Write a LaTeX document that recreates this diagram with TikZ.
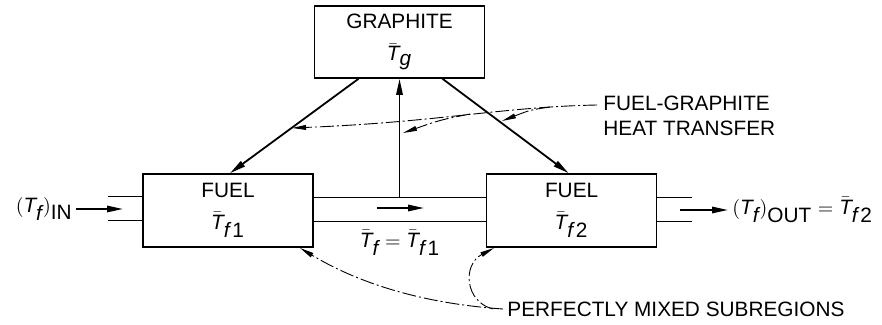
\documentclass[tikz,border=0pt]{standalone}
\usepackage{fontspec}
\setmainfont{Liberation Sans}
\usetikzlibrary{arrows.meta,positioning,calc}
\newcommand{\Tbar}[1]{$\bar{\textit{T}}_{#1}$}
\tikzset{
  box/.style={rectangle,draw,line width=0.8pt,minimum width=85pt,minimum height=36.5pt,align=center,font=\fontsize{10.4}{16}\selectfont},
  lbl/.style={font=\fontsize{10.4}{12.5}\selectfont,inner sep=0pt},
  arr/.style={-{Triangle[length=8pt,width=3.2pt]},line width=0.9pt},
  ldr/.style={-{Triangle[length=7pt,width=2.4pt]},line width=0.45pt,dash pattern=on 7pt off 1.5pt on 1pt off 1.5pt},
}
\begin{document}
\begin{tikzpicture}[x=0.5pt,y=-0.5pt]
  \useasboundingbox (0,0) rectangle (882,325);
  \node[box] (f1) at (228,210.5) {FUEL\\\Tbar{\textit{f}\,\textup{1}}};
  \node[box,right=86pt of f1] (f2) {FUEL\\\Tbar{\textit{f}\,\textup{2}}};
  \node[box,minimum height=36pt] (gr) at (399.5,42) {GRAPHITE\\\Tbar{\textit{g}}};
  % pipe between the two fuel regions, plus inlet and outlet stubs
  \draw[line width=0.8pt] ($(f1.east)+(0,-13)$) -- ($(f2.west)+(0,-13)$);
  \draw[line width=0.8pt] ($(f1.east)+(0,11)$) -- ($(f2.west)+(0,11)$);
  \draw[line width=0.8pt] ($(f1.west)+(-34,-14)$) -- ($(f1.west)+(0,-14)$);
  \draw[line width=0.8pt] ($(f1.west)+(-34,10)$) -- ($(f1.west)+(0,10)$);
  \draw[line width=0.8pt] ($(f2.east)+(0,-13)$) -- ($(f2.east)+(35,-13)$);
  \draw[line width=0.8pt] ($(f2.east)+(0,11)$) -- ($(f2.east)+(35,11)$);
  % flow
  \coordinate (in0) at (76,209);
  \coordinate (in1) at (123,209);
  \coordinate (out0) at (680,210);
  \coordinate (out1) at (728,210);
  \coordinate (mid0) at (377,208);
  \coordinate (mid1) at (424,208);
  \draw[arr] (in0) -- (in1);
  \draw[arr] (out0) -- (out1);
  \draw[arr] (mid0) -- (mid1);
  \node[lbl,anchor=east] (tin) at ($(in0)+(-3,0)$) {$(\textit{T}_{\textit{f}})_{\textup{IN}}$};
  \node[lbl,anchor=west] (tout) at ($(out1)+(4,0)$) {$(\textit{T}_{\textit{f}})_{\textup{OUT}} = $ \Tbar{\textit{f}\,\textup{2}}};
  \node[lbl] (tmid) at (400,243) {\Tbar{\textit{f}} $=$ \Tbar{\textit{f}\,\textup{1}}};
  % heat transfer
  \coordinate (pt) at (gr.south |- 0,197.5);
  \draw[arr] (pt) -- (gr.south);
  \draw[arr] ($(gr.south)+(-41,0)$) -- ($(f1.north)+(2,0)$);
  \draw[arr] ($(gr.south)+(43,0)$) -- ($(f2.north)+(-3,0)$);
  % notes
  \node[lbl,anchor=west,align=left] (ht) at (603,116) {FUEL-GRAPHITE\\HEAT TRANSFER};
  \node[lbl,anchor=west] (pm) at (507,309) {PERFECTLY MIXED SUBREGIONS};
  \coordinate (h0) at (597,105);
  \draw[ldr] (h0) .. controls (500,107) and (440,122) .. (292,128);
  \draw[ldr] (550,107) .. controls (530,110) .. (502,121);
  \draw[ldr] (470,114) .. controls (440,120) .. (403,133);
  \draw[ldr] ($(pm.west)+(-4,0)$) .. controls (400,302) and (340,272) .. (300,248);
  \draw[ldr] ($(pm.west)+(-14,0)$) .. controls (465,302) and (462,265) .. (494,248);
\end{tikzpicture}
\end{document}
